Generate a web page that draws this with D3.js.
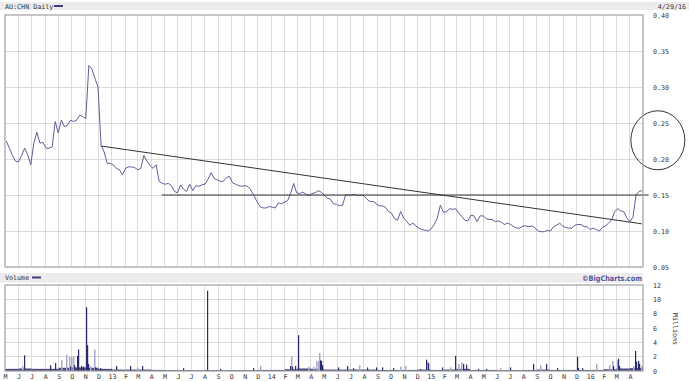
<!DOCTYPE html>
<html>
<head>
<meta charset="utf-8">
<script src="https://cdn.jsdelivr.net/npm/d3@7"></script>
<style>
  body { margin: 0; background: #fff; }
  svg text { font-family: "DejaVu Sans Mono", monospace; font-size: 6.7px; fill: #333; }
</style>
</head>
<body>
<svg id="chart" width="689" height="381"></svg>
<script>
// weekly closes (Fridays)
const price2012 = [0.225, 0.215, 0.205, 0.197, 0.196, 0.205, 0.215, 0.206, 0.192, 0.222,
  0.237, 0.222, 0.223, 0.215, 0.215, 0.217, 0.252, 0.236, 0.254, 0.245,
  0.247, 0.254, 0.252, 0.254, 0.261, 0.259, 0.256, 0.330, 0.325, 0.312,
  0.300, 0.219, 0.210, 0.194, 0.194]
const price2013 = [0.192, 0.187, 0.185, 0.178, 0.187, 0.189, 0.189, 0.188, 0.185, 0.187,
  0.205, 0.197, 0.191, 0.187, 0.192, 0.169, 0.166, 0.165, 0.166, 0.163,
  0.155, 0.153, 0.164, 0.158, 0.155, 0.165, 0.156, 0.163, 0.162, 0.164,
  0.165, 0.172, 0.181, 0.173, 0.171, 0.169, 0.169, 0.174, 0.176, 0.167,
  0.165, 0.163, 0.162, 0.163, 0.162, 0.157, 0.149, 0.141, 0.134, 0.132,
  0.132, 0.134]
const price2014 = [0.133, 0.132, 0.139, 0.138, 0.140, 0.142, 0.152, 0.166, 0.153, 0.152,
  0.154, 0.151, 0.149, 0.152, 0.153, 0.156, 0.154, 0.150, 0.146, 0.144,
  0.138, 0.137, 0.135, 0.136, 0.150, 0.150, 0.150, 0.151, 0.149, 0.150,
  0.149, 0.144, 0.141, 0.141, 0.138, 0.135, 0.135, 0.133, 0.127, 0.125,
  0.117, 0.115, 0.127, 0.118, 0.113, 0.108, 0.111, 0.107, 0.104, 0.102,
  0.101, 0.100]
const price2015 = [0.103, 0.109, 0.118, 0.136, 0.126, 0.127, 0.131, 0.130, 0.131, 0.125,
  0.120, 0.115, 0.114, 0.122, 0.121, 0.113, 0.121, 0.121, 0.117, 0.116,
  0.116, 0.113, 0.114, 0.112, 0.109, 0.111, 0.109, 0.106, 0.104, 0.104,
  0.107, 0.107, 0.106, 0.107, 0.104, 0.100, 0.099, 0.099, 0.101, 0.100,
  0.106, 0.108, 0.111, 0.107, 0.105, 0.104, 0.104, 0.108, 0.109, 0.109,
  0.106, 0.106]
const price2016 = [0.102, 0.104, 0.102, 0.100, 0.105, 0.107, 0.111, 0.115, 0.127, 0.131,
  0.128, 0.127, 0.118, 0.113, 0.119, 0.150, 0.155, 0.156]

const priceTicks = [0.40, 0.35, 0.30, 0.25, 0.20, 0.15, 0.10, 0.05]
const volTicks = [12, 10, 8, 6, 4, 2, 0]
const monthLetters = ['J', 'F', 'M', 'A', 'M', 'J', 'J', 'A', 'S', 'O', 'N', 'D']

// notable daily volumes in millions: date, volume, shade (d = dark, l = light)
const volSpikes = [
  ['2012-06-08', 0.7, 'l'], ['2012-06-14', 2.2, 'd'], ['2012-08-13', 0.8, 'd'], ['2012-08-23', 1.1, 'd'],
  ['2012-09-07', 1.5, 'l'], ['2012-09-17', 2.3, 'l'], ['2012-09-24', 2.0, 'l'], ['2012-09-26', 0.6, 'd'],
  ['2012-09-28', 2.0, 'l'], ['2012-10-03', 2.0, 'l'], ['2012-10-05', 0.8, 'd'], ['2012-10-12', 2.1, 'd'],
  ['2012-10-16', 3.0, 'd'], ['2012-10-23', 0.7, 'd'], ['2012-10-26', 0.6, 'd'], ['2012-11-02', 8.9, 'd'],
  ['2012-11-05', 3.6, 'd'], ['2012-11-07', 1.0, 'd'], ['2012-11-12', 0.7, 'l'], ['2012-11-21', 3.0, 'l'],
  ['2012-11-22', 0.5, 'd'], ['2012-12-04', 0.4, 'd'], ['2013-01-10', 0.7, 'd'], ['2013-02-11', 0.7, 'd'],
  ['2013-02-27', 0.5, 'l'], ['2013-03-11', 0.7, 'd'], ['2013-06-13', 0.4, 'd'], ['2013-08-07', 11.2, 'd'],
  ['2013-09-05', 0.3, 'd'], ['2013-11-20', 0.4, 'd'], ['2013-12-06', 0.7, 'l'], ['2014-02-12', 0.7, 'd'],
  ['2014-02-14', 2.0, 'l'], ['2014-02-18', 0.6, 'd'], ['2014-02-25', 0.7, 'd'], ['2014-03-03', 5.0, 'd'],
  ['2014-03-26', 0.6, 'l'], ['2014-04-07', 0.6, 'l'], ['2014-04-14', 1.4, 'l'], ['2014-04-17', 1.4, 'l'],
  ['2014-04-21', 2.5, 'l'], ['2014-04-23', 1.5, 'd'], ['2014-04-25', 1.4, 'd'], ['2014-04-28', 0.8, 'd'],
  ['2014-06-02', 0.5, 'd'], ['2014-06-23', 0.7, 'd'], ['2014-07-07', 0.4, 'd'], ['2014-07-21', 0.8, 'l'],
  ['2014-08-07', 0.5, 'd'], ['2014-08-29', 0.5, 'd'], ['2014-09-12', 0.5, 'd'], ['2014-10-06', 0.4, 'd'],
  ['2014-10-22', 0.6, 'l'], ['2014-11-03', 0.7, 'l'], ['2014-12-08', 0.3, 'd'], ['2014-12-22', 1.6, 'd'],
  ['2014-12-24', 1.3, 'l'], ['2014-12-26', 1.1, 'd'], ['2015-01-26', 0.5, 'd'], ['2015-02-13', 0.5, 'l'],
  ['2015-02-25', 2.1, 'd'], ['2015-03-04', 1.0, 'l'], ['2015-03-12', 1.2, 'l'], ['2015-03-16', 1.0, 'd'],
  ['2015-03-23', 0.9, 'd'], ['2015-04-20', 0.3, 'd'], ['2015-05-07', 0.3, 'd'], ['2015-06-08', 0.4, 'l'],
  ['2015-07-01', 0.5, 'd'], ['2015-08-24', 1.0, 'd'], ['2015-09-08', 0.8, 'l'], ['2015-09-21', 1.0, 'd'],
  ['2015-10-16', 0.4, 'd'], ['2015-12-02', 2.0, 'd'], ['2015-12-04', 0.4, 'd'], ['2015-12-14', 0.4, 'd'],
  ['2016-01-15', 1.0, 'l'], ['2016-02-12', 0.8, 'l'], ['2016-02-19', 1.4, 'l'], ['2016-02-23', 0.7, 'd'],
  ['2016-03-02', 1.5, 'l'], ['2016-03-04', 1.7, 'd'], ['2016-03-08', 0.7, 'd'], ['2016-04-08', 0.7, 'l'],
  ['2016-04-12', 2.8, 'd'], ['2016-04-15', 1.3, 'd'], ['2016-04-19', 1.4, 'd'], ['2016-04-22', 1.0, 'd'],
  ['2016-04-26', 0.7, 'l']
]
// typical daily volume per month (millions), May 2012 .. Apr 2016
const volBaseline = [0.3, 0.35, 0.3, 0.3, 0.45, 0.5, 0.45, 0.3,
  0.2, 0.2, 0.2, 0.15, 0.12, 0.12, 0.1, 0.12, 0.1, 0.12, 0.12, 0.15,
  0.15, 0.25, 0.35, 0.3, 0.2, 0.2, 0.2, 0.2, 0.15, 0.15, 0.15, 0.2,
  0.15, 0.2, 0.3, 0.15, 0.15, 0.12, 0.12, 0.15, 0.2, 0.15, 0.15, 0.15,
  0.15, 0.25, 0.35, 0.4]

// hand-drawn annotations: falling trendline, support line, circle
const trendLine = [['2012-12-07', 0.218], ['2016-04-28', 0.110]]
const supportLine = [['2013-04-25', 0.15], ['2016-05-14', 0.15]]
const circleMark = ['2016-06-04', 0.226]

const parse = d3.timeParse('%Y-%m-%d')
const start = new Date(2012, 4, 1)
const end = new Date(2016, 4, 1)

const plot = { left: 5, right: 643 }
const pricePanel = { top: 15, bottom: 267 }
const volPanel = { top: 285, bottom: 371 }

const x = d3.scaleTime([start, end], [plot.left, plot.right])
const y = d3.scaleLinear([0.05, 0.40], [pricePanel.bottom, pricePanel.top])
const yVol = d3.scaleLinear([0, 12], [volPanel.bottom, volPanel.top])

const fridays = d3.timeFriday.range(new Date(2012, 4, 4), end)
const closes = [].concat(price2012, price2013, price2014, price2015, price2016)
const prices = fridays.map((d, i) => ({ date: d, value: closes[i] }))

const months = d3.timeMonth.range(start, end)

const svg = d3.select('#chart')

// header bands
svg.append('rect').attr('x', 0).attr('y', 2).attr('width', 689).attr('height', 8).attr('fill', '#ececec')
svg.append('rect').attr('x', 0).attr('y', 273).attr('width', plot.right).attr('height', 9.5).attr('fill', '#ececec')

svg.append('text').attr('x', 5).attr('y', 8.5).text('AU:CHN Daily')
svg.append('line').attr('x1', 54).attr('x2', 63).attr('y1', 6).attr('y2', 6)
  .attr('stroke', '#3c3c7c').attr('stroke-width', 2)
svg.append('text').attr('x', 686).attr('y', 8.5).attr('text-anchor', 'end').text('4/29/16')

svg.append('text').attr('x', 5).attr('y', 280).text('Volume')
svg.append('line').attr('x1', 32).attr('x2', 41).attr('y1', 277.5).attr('y2', 277.5)
  .attr('stroke', '#3c3c7c').attr('stroke-width', 2)
svg.append('text').attr('x', 642).attr('y', 280.5).attr('text-anchor', 'end')
  .attr('textLength', 60).attr('lengthAdjust', 'spacingAndGlyphs')
  .style('font-family', '"DejaVu Sans", sans-serif').style('font-weight', 'bold')
  .style('font-size', '7.5px').style('fill', '#55559a')
  .text('\u00a9BigCharts.com')

// grids
function drawGrid (panel, scale, ticks) {
  const g = svg.append('g').attr('stroke', '#dcdcdc').attr('stroke-width', 1)
    .style('shape-rendering', 'crispEdges')
  g.selectAll('line.v').data(months.slice(1)).enter().append('line')
    .attr('x1', d => x(d)).attr('x2', d => x(d))
    .attr('y1', panel.top).attr('y2', panel.bottom)
  g.selectAll('line.h').data(ticks).enter().append('line')
    .attr('x1', plot.left).attr('x2', plot.right)
    .attr('y1', d => scale(d)).attr('y2', d => scale(d))
}
drawGrid(pricePanel, y, priceTicks.slice(1, -1))
drawGrid(volPanel, yVol, volTicks.slice(1, -1))

// price line
svg.append('path')
  .datum(prices)
  .attr('fill', 'none')
  .attr('stroke', '#5e5e96')
  .attr('stroke-width', 1)
  .attr('d', d3.line().x(d => x(d.date)).y(d => y(d.value)))

// annotations
const annoLine = d3.line().x(d => x(parse(d[0]))).y(d => y(d[1]))
svg.append('path').datum(trendLine).attr('d', annoLine)
  .attr('stroke', '#333').attr('stroke-width', 1).attr('fill', 'none')
svg.append('path').datum(supportLine).attr('d', annoLine)
  .attr('stroke', '#333').attr('stroke-width', 1).attr('fill', 'none')
svg.append('ellipse')
  .attr('cx', x(parse(circleMark[0]))).attr('cy', y(circleMark[1]))
  .attr('rx', 27).attr('ry', 29.5)
  .attr('fill', 'none').attr('stroke', '#333').attr('stroke-width', 1)

// volume
svg.append('g').selectAll('rect').data(months).enter().append('rect')
  .attr('x', d => x(d))
  .attr('width', d => x(d3.timeMonth.offset(d, 1)) - x(d))
  .attr('y', (d, i) => yVol(volBaseline[i]))
  .attr('height', (d, i) => yVol(0) - yVol(volBaseline[i]))
  .attr('fill', '#2b2b6b').attr('opacity', 0.85)

const spikes = volSpikes.map(s => ({ date: parse(s[0]), value: s[1], shade: s[2] }))
  .sort((a, b) => (a.shade === 'l' ? 0 : 1) - (b.shade === 'l' ? 0 : 1))
svg.append('g').selectAll('rect').data(spikes).enter().append('rect')
  .attr('x', d => Math.round(x(d.date)))
  .attr('width', d => d.shade === 'l' ? 1.5 : 1.2)
  .attr('y', d => yVol(d.value))
  .attr('height', d => yVol(0) - yVol(d.value))
  .attr('fill', d => d.shade === 'l' ? '#a8a8c8' : '#2b2b6b')

// panel borders
for (const p of [pricePanel, volPanel]) {
  svg.append('rect').attr('x', plot.left).attr('y', p.top)
    .attr('width', plot.right - plot.left).attr('height', p.bottom - p.top)
    .attr('fill', 'none').attr('stroke', '#a0a0a0').attr('stroke-width', 1.2)
}

// axes
const yAxis = svg.append('g').attr('transform', `translate(${plot.right},0)`)
  .call(d3.axisRight(y).tickValues(priceTicks).tickFormat(d3.format('.2f')).tickSize(0).tickPadding(10))
const vAxis = svg.append('g').attr('transform', `translate(${plot.right},0)`)
  .call(d3.axisRight(yVol).tickValues(volTicks).tickFormat(d3.format('d')).tickSize(0).tickPadding(10))
const xAxis = svg.append('g').attr('transform', `translate(0,${volPanel.bottom})`)
  .call(d3.axisBottom(x).tickValues(months).tickSize(0).tickPadding(3)
    .tickFormat(d => d.getMonth() === 0 ? d3.timeFormat('%y')(d) : monthLetters[d.getMonth()]))
for (const a of [yAxis, vAxis, xAxis]) {
  a.select('.domain').remove()
  a.selectAll('text').attr('font-family', null).attr('font-size', null).style('fill', '#333')
}

svg.append('text').attr('transform', 'translate(673,329) rotate(90)')
  .attr('text-anchor', 'middle').text('Millions')
</script>
</body>
</html>
